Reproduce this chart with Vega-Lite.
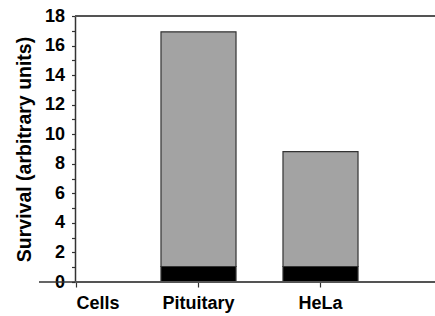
{
  "$schema": "https://vega.github.io/schema/vega-lite/v6.json",
  "width": 360,
  "height": 266,
  "autosize": {"type": "none"},
  "padding": {"left": 75, "top": 16, "right": 0, "bottom": 34},
  "background": "white",
  "config": {
    "view": {"stroke": null},
    "font": "Liberation Sans",
    "axis": {"labelFont": "Liberation Sans", "titleFont": "Liberation Sans", "labelFontWeight": "bold", "titleFontWeight": "bold", "labelColor": "#000", "titleColor": "#000", "grid": false, "ticks": true},
    "axisY": {
      "titleFontSize": 19.5, "titlePadding": 10, "tickCount": 18, "labelOverlap": false,
      "labelExpr": "datum.value % 2 === 0 ? datum.label : ''",
      "labelFontSize": 18, "labelPadding": 7, "ticks": true, "tickSize": 3.5, "tickColor": "#333", "tickWidth": 1.2,
      "domainColor": "#333", "domainWidth": 1.5
    },
    "axisX": {
      "domain": false, "labelAngle": 0, "labelFontSize": 18, "ticks": true, "tickSize": 4, "tickColor": "#333", "tickWidth": 1.2, "labelPadding": 7
    }
  },
  "data": {
    "values": [
      {"cell": "Cells", "part": "base", "order": 1, "value": 0},
      {"cell": "Cells", "part": "top", "order": 2, "value": 0},
      {"cell": "Pituitary", "part": "base", "order": 1, "value": 1.05},
      {"cell": "Pituitary", "part": "top", "order": 2, "value": 15.88},
      {"cell": "HeLa", "part": "base", "order": 1, "value": 1.05},
      {"cell": "HeLa", "part": "top", "order": 2, "value": 7.77}
    ]
  },
  "layer": [
    {
      "mark": {"type": "bar", "stroke": "#333", "strokeWidth": 1.2},
      "encoding": {
        "x": {
          "field": "cell", "type": "nominal", "sort": ["Cells", "Pituitary", "HeLa"],
          "scale": {"range": [-59.5, 306.5], "paddingInner": 0.385, "paddingOuter": 0.1925},
          "axis": {
            "title": null, "ticks": true, "tickSize": 5, "tickColor": "#333", "tickWidth": 1.2,
            "labelAlign": {"condition": {"test": "datum.value === 'Cells'", "value": "left"}, "value": "center"}
          }
        },
        "y": {
          "field": "value", "type": "quantitative", "stack": "zero",
          "scale": {"domain": [0, 18], "nice": false},
          "title": "Survival (arbitrary units)"
        },
        "color": {"field": "part", "type": "nominal", "scale": {"domain": ["base", "top"], "range": ["#000000", "#a3a3a3"]}, "legend": null},
        "order": {"field": "order", "type": "quantitative"}
      }
    },
    {
      "mark": {"type": "rule", "color": "#555", "strokeWidth": 1.6},
      "encoding": {"y": {"datum": 18}}
    },
    {
      "mark": {"type": "rule", "color": "#555", "strokeWidth": 1.6},
      "encoding": {"y": {"datum": 0}}
    }
  ]
}
